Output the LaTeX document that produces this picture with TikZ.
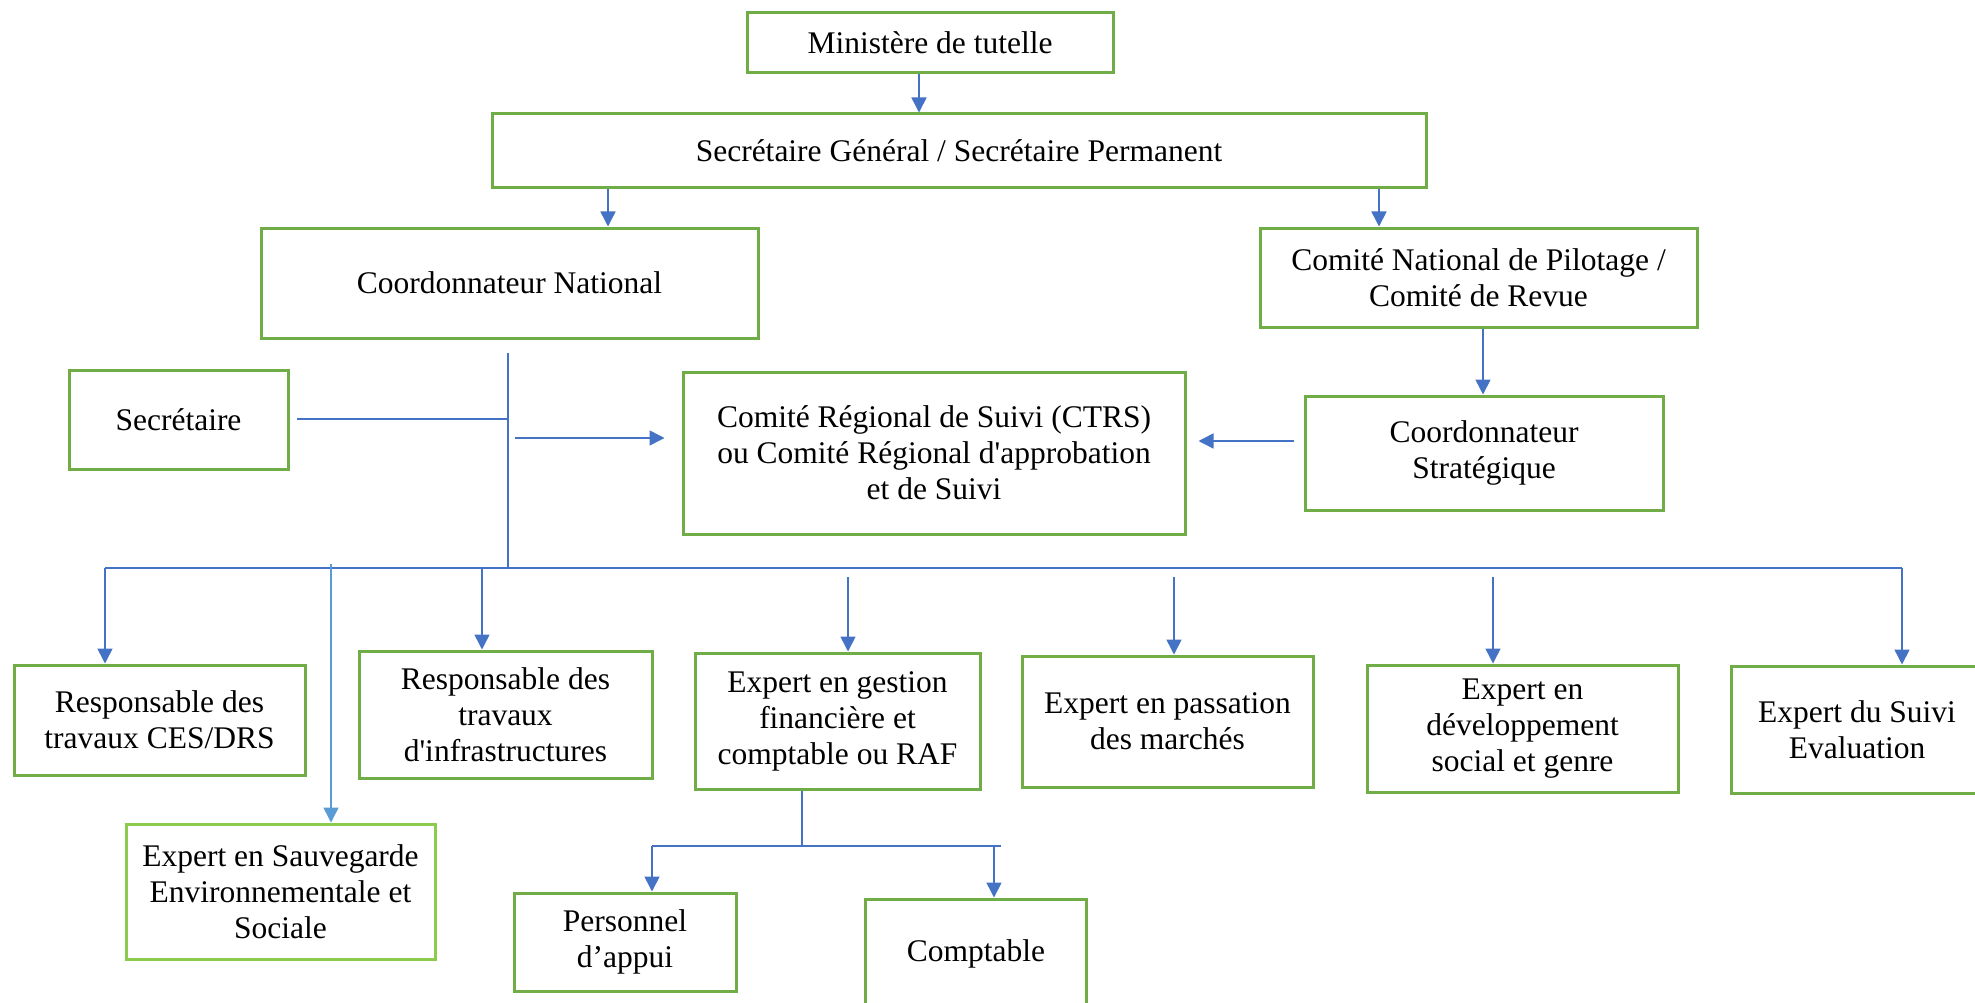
\documentclass[tikz,border=0pt]{standalone}
\usepackage{fontspec}
\newfontfamily\tnr{Liberation Serif}
\usetikzlibrary{arrows.meta}
\definecolor{boxg}{HTML}{70AD47}
\definecolor{boxl}{HTML}{8CCB4B}
\definecolor{ln}{HTML}{4472C4}
\definecolor{lnl}{HTML}{5B9BD5}
\begin{document}
\begin{tikzpicture}[x=1pt,y=-1pt,
  box/.style={draw=boxg, line width=3pt, align=center, inner sep=0pt,
    font=\tnr\fontsize{31.5}{36}\selectfont, text=black},
  conn/.style={draw=ln, line width=1.6pt},
  arr/.style={conn, -{Triangle[length=15pt,width=15pt]}},
]
\useasboundingbox (0,0) rectangle (1975,1003);
\fill[white] (0,0) rectangle (1975,1003);

% nodes
\node[box, minimum width=366pt, minimum height=60pt] (min) at (930,43) {Ministère de tutelle};
\node[box, minimum width=934pt, minimum height=74pt] (sg) at (959,151) {Secrétaire Général / Secrétaire Permanent};
\node[box, minimum width=497pt, minimum height=110pt] (cn) at (509.5,283) {Coordonnateur National};
\node[box, minimum width=437pt, minimum height=99pt] (cnp) at (1478.5,277.5) {Comité National de Pilotage /\\Comité de Revue};
\node[box, minimum width=219pt, minimum height=99pt] (sec) at (178.5,419.5) {Secrétaire};
\node[box, minimum width=502pt, minimum height=162pt] (crs) at (934,453) {Comité Régional de Suivi (CTRS)\\ou Comité Régional d'approbation\\et de Suivi};
\node[box, minimum width=358pt, minimum height=114pt] (cs) at (1484,453) {Coordonnateur\\Stratégique};
\node[box, minimum width=291pt, minimum height=110pt] (ces) at (159.5,720) {Responsable des\\travaux CES/DRS};
\node[box, draw=boxl, minimum width=309pt, minimum height=135pt] (esa) at (280.5,891.5) {Expert en Sauvegarde\\Environnementale et\\Sociale};
\node[box, minimum width=293pt, minimum height=127pt] (rti) at (505.5,714.5) {Responsable des\\travaux\\d'infrastructures};
\node[box, minimum width=285pt, minimum height=136pt] (egf) at (837.5,721) {Expert en gestion\\financière et\\comptable ou RAF};
\node[box, minimum width=291pt, minimum height=131pt] (epm) at (1167.5,721.5) {Expert en passation\\des marchés};
\node[box, minimum width=311pt, minimum height=127pt] (eds) at (1522.5,728.5) {Expert en\\développement\\social et genre};
\node[box, minimum width=252pt, minimum height=127pt] (esu) at (1857,729.5) {Expert du Suivi\\Evaluation};
\node[box, minimum width=222pt, minimum height=98pt] (pa) at (625,942) {Personnel\\d’appui};
\node[box, minimum width=221pt, minimum height=110pt] (cpt) at (976,954) {Comptable};

% column coordinates
\coordinate (k919) at (919,0);
\coordinate (k608) at (608,0);
\coordinate (k1379) at (1379,0);
\coordinate (k1483) at (1483,0);

\draw[arr] (min.south -| k919) -- (sg.north -| k919);
\draw[arr] (sg.south -| k608) -- (cn.north -| k608);
\draw[arr] (sg.south -| k1379) -- (cnp.north -| k1379);
\draw[arr] (cnp.south -| k1483) -- (cs.north -| k1483);

% trunk from Coordonnateur National
\coordinate (ttop) at (508,353);
\coordinate (tbot) at (508,568);
\draw[conn] (ttop) -- (tbot);
\coordinate (sj) at (508,419);
\draw[conn] ([xshift=7pt]sec.east |- sj) -- (sj);
\coordinate (la) at (515,438);
\draw[arr, shorten >=17pt] (la) -- (crs.west |- la);
\coordinate (ra) at (1294,441);
\draw[arr, shorten >=12pt] (ra) -- (crs.east |- ra);

% bus
\coordinate (bl) at (105,568);
\coordinate (br) at (1902,568);
\draw[conn] (bl) -- (br);
\draw[arr] (bl) -- (ces.north -| bl);
\draw[arr] (br) -- (esu.north -| br);
\coordinate (b482) at (482,568);
\draw[arr] (b482) -- (rti.north -| b482);
\coordinate (b331) at (331,564);
\draw[arr, draw=lnl] (b331) -- (esa.north -| b331);
\coordinate (b848) at (848,577);
\draw[arr] (b848) -- (egf.north -| b848);
\coordinate (b1174) at (1174,577);
\draw[arr] (b1174) -- (epm.north -| b1174);
\coordinate (b1493) at (1493,577);
\draw[arr] (b1493) -- (eds.north -| b1493);

% finance sub-branch
\coordinate (fj) at (802,846);
\coordinate (fl) at (652,846);
\coordinate (fr) at (1001,846);
\coordinate (fra) at (994,846);
\draw[conn] (egf.south -| fj) -- (fj);
\draw[conn] (fl) -- (fr);
\draw[arr] (fl) -- (pa.north -| fl);
\draw[arr] (fra) -- (cpt.north -| fra);
\end{tikzpicture}
\end{document}
